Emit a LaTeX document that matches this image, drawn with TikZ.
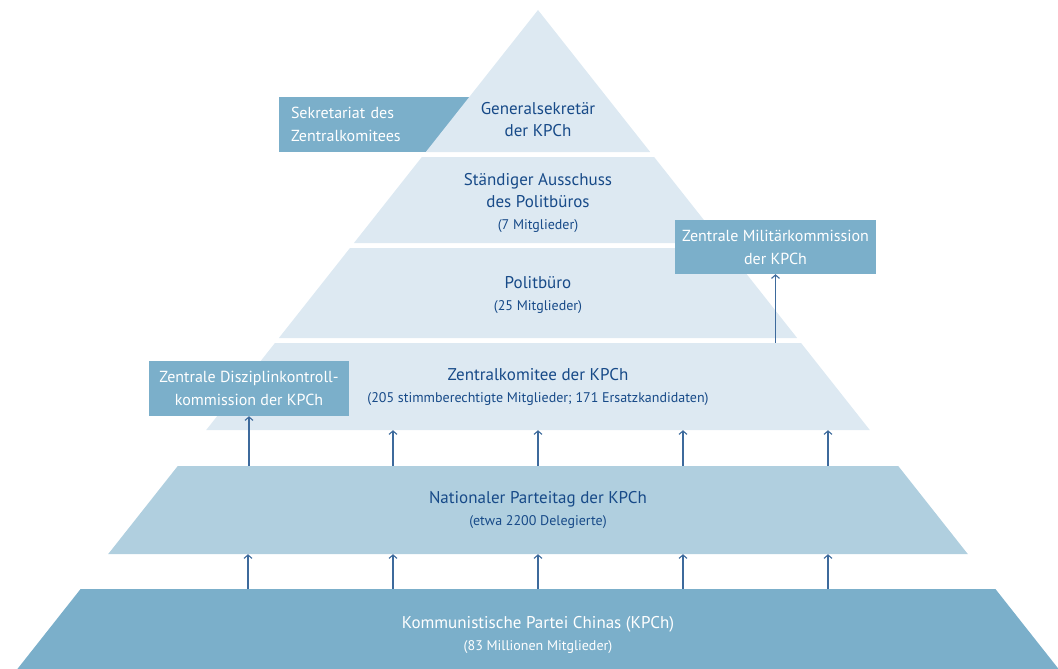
\documentclass[tikz,border=0pt]{standalone}
\usepackage{fontspec}
\setmainfont{PT Sans}
\usetikzlibrary{arrows.meta,positioning,calc}

\definecolor{pyrlight}{HTML}{DDE9F2}
\definecolor{pyrmid}{HTML}{B0CFDF}
\definecolor{pyrdark}{HTML}{7BAFCA}
\definecolor{txtblue}{HTML}{174A88}
\definecolor{arrblue}{HTML}{3D6A9C}

\newcommand{\subtxt}[1]{{\fontsize{14}{22}\selectfont #1}}

\begin{document}
\begin{tikzpicture}[
    x=1pt, y=-1pt,
    layer/.style={text=txtblue, align=center, inner sep=0pt, font=\fontsize{17}{22}\selectfont},
    box/.style={fill=pyrdark, text=white, align=center, inner sep=0pt, minimum width=200pt, minimum height=55pt, font=\fontsize{16}{23}\selectfont},
    arrow/.style={-{Straight Barb[length=3.5pt,width=8pt]}, line width=1.1pt, draw=arrblue}
]
\useasboundingbox (0,0) rectangle (1058,669);

% Secretariat sits behind the top triangle
\node[box, align=left, text width=166pt, inner xsep=12pt, minimum width=190pt] (sekr) at (374,124.5) {Sekretariat des\\Zentralkomitees};

% Pyramid layers
\foreach \yt/\yb/\col in {10/152/pyrlight, 157/243/pyrlight, 248/338/pyrlight, 343/430/pyrlight, 466/554/pyrmid, 589/669/pyrdark}
  \fill[\col] ({538-0.79*(\yt-10)},\yt) -- ({538+0.79*(\yt-10)},\yt) -- ({538+0.79*(\yb-10)},\yb) -- ({538-0.79*(\yb-10)},\yb) -- cycle;

% Side commissions
\node[box, minimum width=201pt, minimum height=54pt] (mil) at (775.5,247) {Zentrale Militärkommission\\der KPCh};
\node[box] (dis) at (249,388.5) {Zentrale Disziplinkontroll-\\kommission der KPCh};

% Layer texts
\node[layer] (gs) at (538,120) {Generalsekretär\\der KPCh};
\node[layer] (sa) at (538,203) {Ständiger Ausschuss\\des Politbüros\\\subtxt{(7 Mitglieder)}};
\node[layer] (pb) at (538,295) {Politbüro\\\subtxt{(25 Mitglieder)}};
\node[layer, minimum height=87pt] (zk) at (538,386.5) {Zentralkomitee der KPCh\\\subtxt{(205 stimmberechtigte Mitglieder; 171 Ersatzkandidaten)}};
\node[layer, minimum height=88pt] (npt) at (538,510) {Nationaler Parteitag der KPCh\\\subtxt{(etwa 2200 Delegierte)}};
\node[layer, text=white, minimum height=92pt] (kpch) at (538,635) {Kommunistische Partei Chinas (KPCh)\\\subtxt{(83 Millionen Mitglieder)}};

% Arrows - elections
\draw[arrow] (zk.north -| mil.south) -- (mil.south);
\draw[arrow] (npt.north -| dis.south) -- (dis.south);
\foreach \ax in {393,538,683,828}
  \draw[arrow] (npt.north -| \ax,0) -- (zk.south -| \ax,0);
\foreach \ax in {248,393,538,683,828}
  \draw[arrow] (kpch.north -| \ax,0) -- (npt.south -| \ax,0);

\end{tikzpicture}
\end{document}
